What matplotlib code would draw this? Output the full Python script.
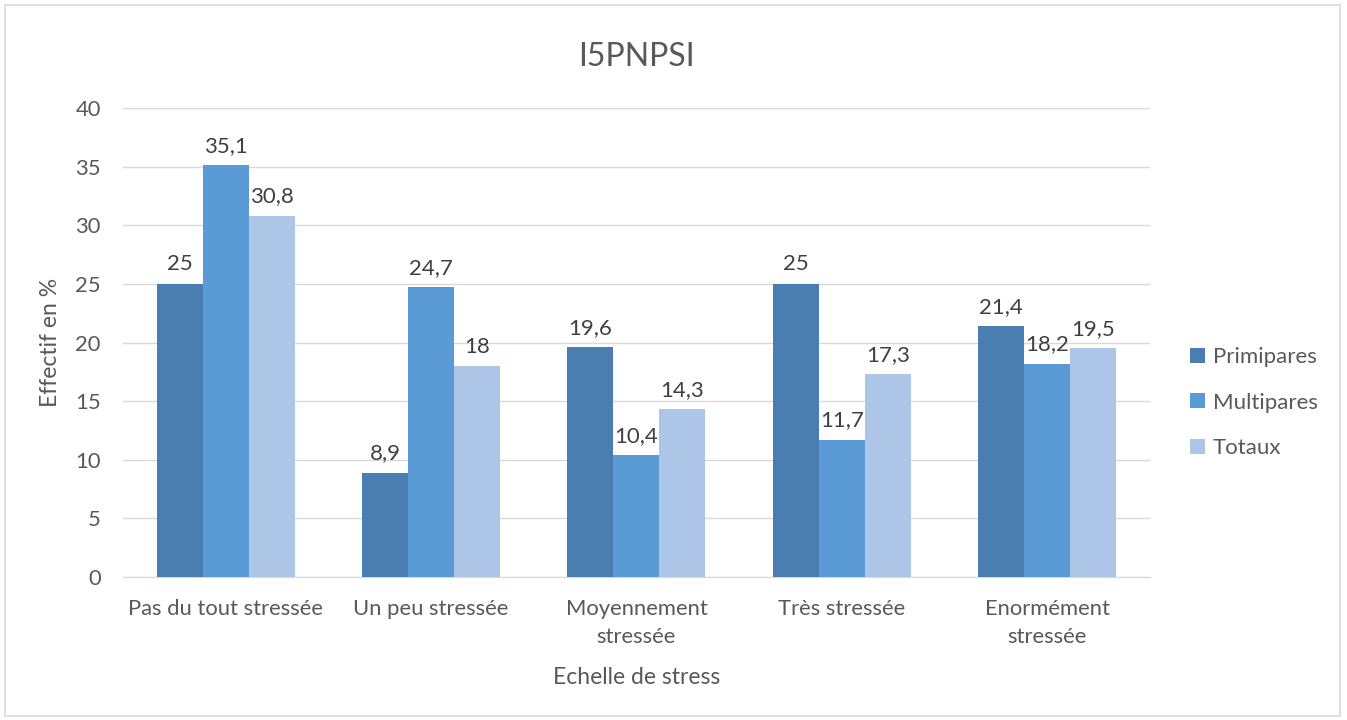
import numpy as np
import matplotlib.pyplot as plt
from matplotlib.patches import Rectangle

plt.rcParams['font.family'] = ['Lato', 'DejaVu Sans']

categories = ['Pas du tout stressée', 'Un peu stressée', 'Moyennement\nstressée',
              'Très stressée', 'Enormément\nstressée']
primipares = [25, 8.9, 19.6, 25, 21.4]
multipares = [35.1, 24.7, 10.4, 11.7, 18.2]
totaux = [30.8, 18, 14.3, 17.3, 19.5]

series = [('Primipares', primipares, '#4a7eb1'),
          ('Multipares', multipares, '#5b9bd5'),
          ('Totaux', totaux, '#adc5e6')]

txt = '#595959'
fig = plt.figure(figsize=(13.47, 7.2), dpi=100)
ax = fig.add_axes([0.0913, 0.1986, 0.7624, 0.6514])

# chart border
fig.patches.append(Rectangle((0.004, 0.006), 0.991, 0.987, transform=fig.transFigure,
                             fill=False, edgecolor='#d9d9d9', linewidth=1.2))

x = np.arange(len(categories))
w = 0.224
for i, (name, vals, col) in enumerate(series):
    pos = x + (i - 1) * w
    ax.bar(pos, vals, w, color=col, label=name, zorder=3)
    for p, v in zip(pos, vals):
        ax.text(p, v + 0.8, f'{v:g}'.replace('.', ','), ha='center', va='bottom',
                fontsize=16, color='#404040')

ax.set_xlim(-0.5, len(categories) - 0.5)
ax.set_ylim(0, 40)
ax.set_yticks(range(0, 41, 5))
ax.set_xticks(x)
ax.set_xticklabels(categories, fontsize=15.8, color=txt, linespacing=1.5)
ax.tick_params(axis='y', labelsize=15.8, labelcolor=txt, length=0, pad=16)
ax.tick_params(axis='x', length=0, pad=16)
ax.grid(axis='y', color='#d9d9d9', linewidth=1, zorder=0)
for s in ['top', 'right', 'left']:
    ax.spines[s].set_visible(False)
ax.spines['bottom'].set_color('#d9d9d9')

ax.set_title('I5PNPSI', fontsize=23, color=txt, pad=30)
ax.set_xlabel('Echelle de stress', fontsize=16.5, color=txt, labelpad=14)
ax.set_ylabel('Effectif en %', fontsize=16.5, color=txt, labelpad=10)

leg = ax.legend(loc='center left', bbox_to_anchor=(1.02, 0.372), frameon=False,
                fontsize=16, labelspacing=1.15, handlelength=0.65, handleheight=0.65,
                handletextpad=0.35)
for t in leg.get_texts():
    t.set_color(txt)

fig.savefig('out.png', dpi=100)
